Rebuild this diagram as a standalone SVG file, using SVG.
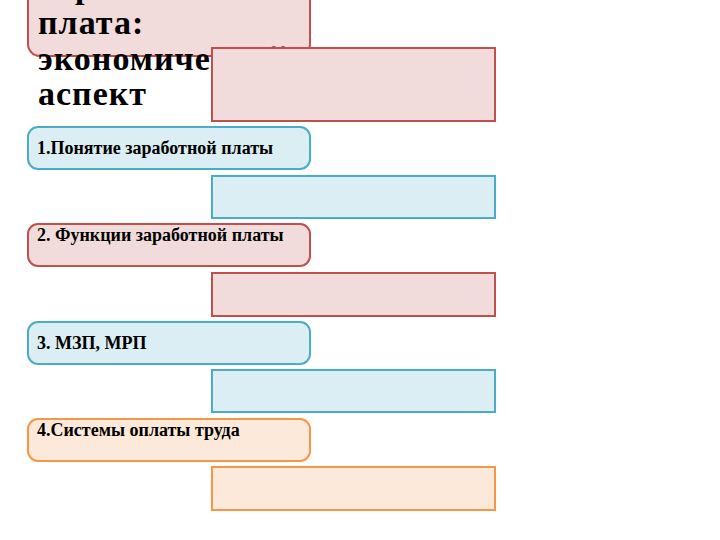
<svg xmlns="http://www.w3.org/2000/svg" width="720" height="540" viewBox="0 0 720 540">
<style>
.red{fill:#f2dcdb;stroke:#c0504d;stroke-width:2}
.blue{fill:#daeef3;stroke:#4bacc6;stroke-width:2}
.orange{fill:#fde9d9;stroke:#f79646;stroke-width:2}
.title{font-family:"Liberation Serif","Times New Roman",serif;font-weight:bold;font-size:34px;letter-spacing:1px;fill:#000}
.lbl{font-family:"Liberation Serif","Times New Roman",serif;font-weight:bold;font-size:18px;fill:#000}
</style>
<rect width="720" height="540" fill="#fff"/>
<g id="title">
<rect class="red" x="28" y="-20" width="282" height="76" rx="12"/>
<text class="title" x="38"><tspan x="38" y="-2">Заработная</tspan><tspan x="38" y="34">плата:</tspan><tspan x="38" y="70">экономический</tspan><tspan x="38" y="105">аспект</tspan></text>
</g>
<g id="r1"><rect class="red" x="212" y="48" width="283" height="73"/></g>
<g id="n1"><rect class="blue" x="28" y="127" width="282" height="42" rx="10"/><text class="lbl" x="37" y="154">1.Понятие заработной платы</text></g>
<g id="r2"><rect class="blue" x="212" y="176" width="283" height="42"/></g>
<g id="n2"><rect class="red" x="28" y="224" width="282" height="42" rx="10"/><text class="lbl" x="37" y="241">2. Функции заработной платы</text></g>
<g id="r3"><rect class="red" x="212" y="273" width="283" height="43"/></g>
<g id="n3"><rect class="blue" x="28" y="322" width="282" height="42" rx="10"/><text class="lbl" x="37" y="349">3. МЗП, МРП</text></g>
<g id="r4"><rect class="blue" x="212" y="370" width="283" height="42"/></g>
<g id="n4"><rect class="orange" x="28" y="419" width="282" height="42" rx="10"/><text class="lbl" x="37" y="436">4.Системы оплаты труда</text></g>
<g id="r5"><rect class="orange" x="212" y="467" width="283" height="43"/></g>
<g id="connectors"/>
</svg>
